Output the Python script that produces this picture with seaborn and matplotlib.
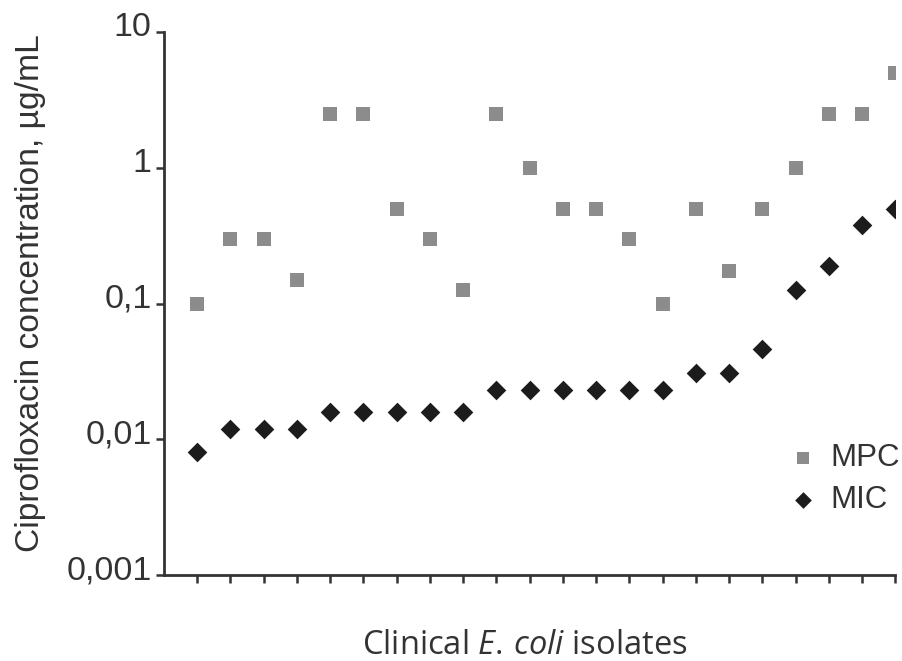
import matplotlib
matplotlib.use("Agg")
import matplotlib.pyplot as plt
import matplotlib.transforms as mtransforms
import seaborn as sns
import pandas as pd

isolates = list(range(1, 23))
mpc = [0.1, 0.3, 0.3, 0.15, 2.5, 2.5, 0.5, 0.3, 0.125, 2.5, 1.0,
       0.5, 0.5, 0.3, 0.1, 0.5, 0.175, 0.5, 1.0, 2.5, 2.5, 5.0]
mic = [0.008, 0.012, 0.012, 0.012, 0.016, 0.016, 0.016, 0.016, 0.016,
       0.023, 0.023, 0.023, 0.023, 0.023, 0.023, 0.031, 0.031, 0.046,
       0.125, 0.19, 0.38, 0.5]
ytick_vals = [0.001, 0.01, 0.1, 1, 10]
ytick_labels = ["0,001", "0,01", "0,1", "1", "10"]

df = pd.DataFrame({"isolate": isolates, "MPC": mpc, "MIC": mic})

sns.set_style("white")
plt.rcParams["font.family"] = ["Liberation Sans", "DejaVu Sans"]
plt.rcParams["mathtext.fontset"] = "custom"
plt.rcParams["mathtext.rm"] = "Open Sans"
plt.rcParams["mathtext.it"] = "Open Sans:italic"

W, H = 903, 661
fig = plt.figure(figsize=(W / 100, H / 100), dpi=100)
left, right, top, bottom = 164, 895.5, 32, 575
ax = fig.add_axes([left / W, 1 - bottom / H, (right - left) / W, (bottom - top) / H])

sns.scatterplot(data=df, x="isolate", y="MPC", marker="s", color="#8c8c8c",
                s=115, linewidth=0, label="MPC", ax=ax)
sns.scatterplot(data=df, x="isolate", y="MIC", marker="D", color="#1c1c1c",
                s=100, linewidth=0, label="MIC", ax=ax)

ax.set_yscale("log")
ax.set_ylim(0.001, 10)
ax.set_xlim(0, 22)
ax.set_yticks(ytick_vals)
ax.set_yticklabels(ytick_labels)
ax.yaxis.set_minor_locator(matplotlib.ticker.NullLocator())
ax.set_xticks(isolates)
ax.set_xticklabels([])
ax.set_xlabel("")
ax.set_ylabel("")

for side in ["top", "right"]:
    ax.spines[side].set_visible(False)
for side in ["left", "bottom"]:
    ax.spines[side].set_color("#333333")
    ax.spines[side].set_linewidth(2)

ax.tick_params(axis="both", which="major", direction="out", length=6, width=1.8,
               color="#333333", left=True, bottom=True)
ax.tick_params(axis="y", labelsize=24.5, labelcolor="#333333", pad=3)

offset = mtransforms.ScaledTranslation(0, -4 / 100, fig.dpi_scale_trans)
for lab in ax.get_yticklabels():
    lab.set_verticalalignment("baseline")
    lab.set_transform(lab.get_transform() + offset)

fig.text(31 / W, 1 - 293 / H, "Ciprofloxacin concentration, µg/mL",
         rotation=90, ha="center", va="center", fontsize=24.2, color="#333333")

fig.text(525 / W, 1 - 654 / H, r"Clinical $\mathit{E.\,coli}$ isolates",
         fontsize=23.5, color="#333333", family="Open Sans",
         va="baseline", ha="center")

ax.legend(frameon=False, loc="center left",
          bbox_to_anchor=(787 / W, 1 - 479 / H), bbox_transform=fig.transFigure,
          fontsize=22.5, labelcolor="#333333", handlelength=1.0, handletextpad=0.4,
          labelspacing=0.4, markerscale=0.85, borderpad=0, borderaxespad=0)

fig.savefig("out.png", dpi=100)
